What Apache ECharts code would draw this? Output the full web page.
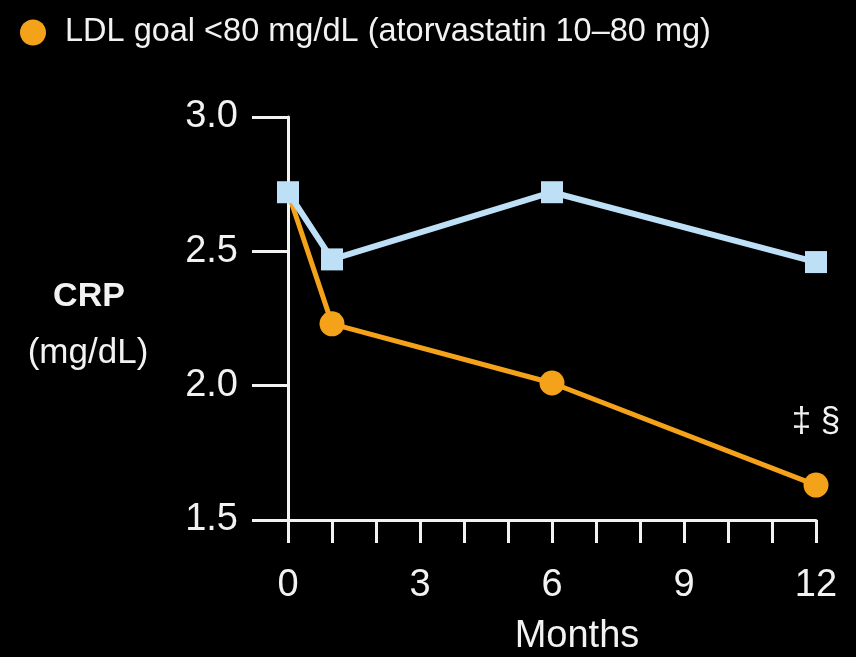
<!DOCTYPE html>
<html>
<head>
<meta charset="utf-8">
<script src="https://cdn.jsdelivr.net/npm/echarts@6/dist/echarts.min.js"></script>
<style>
  html, body { margin: 0; padding: 0; background: #000; }
  #chart { width: 856px; height: 657px; }
</style>
</head>
<body>
<div id="chart"></div>
<script>
// CRP over time for two LDL-lowering strategies
const months = [0, 1, 6, 12];
const ldlGoal80 = [2.72, 2.23, 2.01, 1.63];      // atorvastatin 10–80 mg
const comparison = [2.72, 2.47, 2.72, 2.46];
const yTicks = [1.5, 2.0, 2.5, 3.0];
const xTicks = [0, 3, 6, 9, 12];
const seriesNames = ['LDL goal <80 mg/dL (atorvastatin 10–80 mg)', 'Comparison'];
const endMarker = '‡ §';

const FONT = "'Liberation Sans', Arial, Helvetica, sans-serif";
const WHITE = '#f2f2f2';
const ORANGE = '#f4a21a';
const BLUE = '#bde0f6';

const chart = echarts.init(document.getElementById('chart'));

const orangeData = months.map((m, i) => {
  const item = { value: [m, ldlGoal80[i]] };
  if (i === 0) {
    // baseline point sits under the square marker of the other arm
    item.symbol = 'none';
  }
  if (i === months.length - 1) {
    item.label = {
      show: true,
      formatter: endMarker,
      position: 'top',
      distance: 33,
      color: WHITE,
      fontSize: 35,
      fontFamily: FONT
    };
  }
  return item;
});

chart.setOption({
  backgroundColor: '#000',
  animation: false,
  textStyle: { fontFamily: FONT, color: WHITE },
  legend: {
    data: [seriesNames[0]],
    left: 15,
    top: 11,
    icon: 'circle',
    itemWidth: 54,
    itemHeight: 26,
    textStyle: { color: WHITE, fontSize: 32.5, fontFamily: FONT }
  },
  grid: { left: 288, right: 40, top: 117, bottom: 137, containLabel: false, outerBoundsMode: 'none' },
  xAxis: {
    type: 'value',
    min: xTicks[0],
    max: xTicks[xTicks.length - 1],
    interval: 3,
    name: 'Months',
    nameLocation: 'middle',
    nameGap: 98,
    nameTextStyle: { color: WHITE, fontSize: 38, fontFamily: FONT, padding: [0, 0, 0, 50] },
    axisLine: { show: true, onZero: false, lineStyle: { color: WHITE, width: 3 } },
    axisTick: { show: true, length: 23, lineStyle: { color: WHITE, width: 3 } },
    minorTick: { show: true, splitNumber: 3, length: 23, lineStyle: { color: WHITE, width: 3 } },
    axisLabel: { color: WHITE, fontSize: 38, fontFamily: FONT, margin: 47 },
    splitLine: { show: false }
  },
  yAxis: {
    type: 'value',
    min: yTicks[0],
    max: yTicks[yTicks.length - 1],
    interval: 0.5,
    axisLine: { show: true, onZero: false, lineStyle: { color: WHITE, width: 3 } },
    axisTick: { show: true, length: 36, lineStyle: { color: WHITE, width: 3 } },
    axisLabel: { color: WHITE, fontSize: 38, fontFamily: FONT, margin: 50,
      formatter: v => v.toFixed(1) },
    splitLine: { show: false }
  },
  graphic: [
    { type: 'text', x: 89, y: 297, style: { text: 'CRP', fill: WHITE, fontSize: 34, fontWeight: 'bold',
      fontFamily: FONT, textAlign: 'center', textVerticalAlign: 'middle' } },
    { type: 'text', x: 88, y: 353, style: { text: '(mg/dL)', fill: WHITE, fontSize: 35,
      fontFamily: FONT, textAlign: 'center', textVerticalAlign: 'middle' } }
  ],
  series: [
    {
      name: seriesNames[0],
      type: 'line',
      data: orangeData,
      symbol: 'circle',
      symbolSize: 25,
      lineStyle: { color: ORANGE, width: 5 },
      itemStyle: { color: ORANGE },
      z: 2
    },
    {
      name: seriesNames[1],
      type: 'line',
      data: months.map((m, i) => [m, comparison[i]]),
      symbol: 'rect',
      symbolSize: 22,
      lineStyle: { color: BLUE, width: 6 },
      itemStyle: { color: BLUE },
      z: 3
    }
  ]
});
</script>
</body>
</html>
